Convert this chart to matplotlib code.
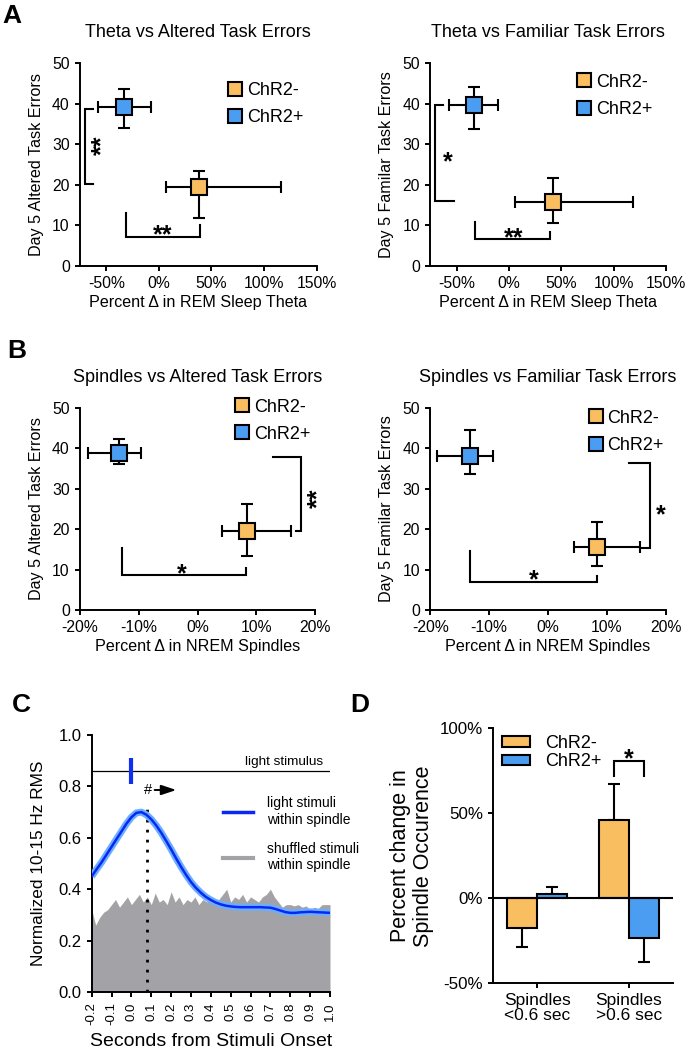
import matplotlib
matplotlib.use('Agg')
import matplotlib.pyplot as plt
from matplotlib.lines import Line2D
from matplotlib.patches import Patch
import numpy as np

plt.rcParams['font.family'] = ['Liberation Sans', 'DejaVu Sans']
plt.rcParams['axes.linewidth'] = 1.4
plt.rcParams['xtick.major.width'] = 1.4
plt.rcParams['ytick.major.width'] = 1.4
plt.rcParams['xtick.major.size'] = 3.8
plt.rcParams['ytick.major.size'] = 3.8

# ---------------- data ----------------
groups = ['ChR2-', 'ChR2+']
group_colors = ['#F9BE60', '#4B9DF2']

# Panel A: theta vs altered task errors
thA_alt_x = [37.8, -33.6]
thA_alt_xlo = [7.0, -57.5]
thA_alt_xhi = [115.6, -7.2]
thA_alt_y = [19.5, 39.2]
thA_alt_ylo = [11.7, 33.9]
thA_alt_yhi = [23.5, 43.5]

# Panel A: theta vs familiar task errors
thA_fam_x = [42.2, -33.3]
thA_fam_xlo = [5.7, -56.9]
thA_fam_xhi = [118.4, -10.9]
thA_fam_y = [15.7, 39.7]
thA_fam_ylo = [10.7, 33.7]
thA_fam_yhi = [21.6, 44.0]

# Panel B: spindles vs altered task errors
spB_alt_x = [8.5, -13.3]
spB_alt_xlo = [4.1, -18.6]
spB_alt_xhi = [15.9, -9.6]
spB_alt_y = [19.6, 38.8]
spB_alt_ylo = [13.4, 36.1]
spB_alt_yhi = [26.2, 42.3]

# Panel B: spindles vs familiar task errors
spB_fam_x = [8.3, -13.2]
spB_fam_xlo = [4.4, -18.8]
spB_fam_xhi = [15.6, -9.4]
spB_fam_y = [15.5, 38.0]
spB_fam_ylo = [10.9, 33.6]
spB_fam_yhi = [21.7, 44.6]

theta_xticks = [-50, 0, 50, 100, 150]
spindle_xticks = [-20, -10, 0, 10, 20]
err_yticks = [0, 10, 20, 30, 40, 50]

# significance brackets: vertical (x, y_top, x_top_end, y_bot, x_bot_end, label, lx, ly)
vbr_A_alt = (-69.8, 38.7, -62.8, 20.2, -62.8, '**', -61.2, 29.8)
vbr_A_fam = (-70.2, 39.6, -63.2, 15.9, -52.1, '*', -58.5, 27.3)
vbr_B_alt = (17.6, 37.8, 12.9, 19.6, 16.8, '**', 19.3, 27.7)
vbr_B_fam = (17.4, 36.4, 13.8, 15.3, 15.6, '*', 19.1, 25.2)
# horizontal (y, x_left, y_left_top, x_right, y_right_top, label, lx, ly)
hbr_A_alt = (7.1, -31.7, 13.1, 38.8, 10.1, '**', 3.5, 9.4)
hbr_A_fam = (6.6, -32.4, 10.9, 39.0, 8.4, '**', 4.0, 8.5)
hbr_B_alt = (8.7, -12.9, 15.3, 8.2, 10.3, '*', -2.6, 10.6)
hbr_B_fam = (7.0, -13.3, 14.5, 8.3, 8.3, '*', -2.4, 9.1)

# Panel C: normalized 10-15 Hz RMS
blue_t = [-0.200, -0.175, -0.150, -0.125, -0.100, -0.075, -0.050, -0.025,
          0.000, 0.025, 0.050, 0.075, 0.100, 0.125, 0.150, 0.175, 0.200,
          0.225, 0.250, 0.275, 0.300, 0.325, 0.350, 0.375, 0.400, 0.425,
          0.450, 0.475, 0.500, 0.525, 0.550, 0.575, 0.600, 0.625, 0.650,
          0.675, 0.700, 0.725, 0.750, 0.775, 0.800, 0.825, 0.850, 0.875,
          0.900, 0.925, 0.950, 0.975, 1.000]
blue_rms = [0.450, 0.478, 0.505, 0.535, 0.565, 0.595, 0.625, 0.655,
            0.680, 0.697, 0.700, 0.690, 0.672, 0.648, 0.620, 0.588, 0.555,
            0.520, 0.487, 0.456, 0.428, 0.405, 0.386, 0.370, 0.358, 0.348,
            0.341, 0.336, 0.333, 0.331, 0.330, 0.330, 0.330, 0.330, 0.330,
            0.329, 0.328, 0.323, 0.317, 0.311, 0.308, 0.308, 0.310, 0.311,
            0.312, 0.311, 0.310, 0.309, 0.308]
gray_t = [-0.20, -0.18, -0.16, -0.14, -0.12, -0.10, -0.08, -0.06, -0.04, -0.02,
          0.00, 0.02, 0.04, 0.06, 0.08, 0.10, 0.12, 0.14, 0.16, 0.18,
          0.20, 0.22, 0.24, 0.26, 0.28, 0.30, 0.32, 0.34, 0.36, 0.38,
          0.40, 0.42, 0.44, 0.46, 0.48, 0.50, 0.52, 0.54, 0.56, 0.58,
          0.60, 0.62, 0.64, 0.66, 0.68, 0.70, 0.72, 0.74, 0.76, 0.78,
          0.80, 0.82, 0.84, 0.86, 0.88, 0.90, 0.92, 0.94, 0.96, 0.98, 1.00]
gray_rms = [0.32, 0.26, 0.29, 0.31, 0.32, 0.34, 0.36, 0.33, 0.35, 0.37,
            0.34, 0.36, 0.38, 0.35, 0.37, 0.34, 0.385, 0.35, 0.36, 0.34,
            0.39, 0.35, 0.37, 0.34, 0.36, 0.35, 0.37, 0.34, 0.36, 0.35,
            0.37, 0.34, 0.36, 0.38, 0.40, 0.35, 0.37, 0.36, 0.38, 0.35,
            0.37, 0.36, 0.35, 0.37, 0.38, 0.40, 0.37, 0.35, 0.33, 0.34,
            0.34, 0.335, 0.34, 0.33, 0.335, 0.32, 0.33, 0.325, 0.34, 0.34, 0.34]
stim_onset = 0.0
stim_line_y = 0.86
sig_time = 0.08
c_xticks = [-0.2, -0.1, 0.0, 0.1, 0.2, 0.3, 0.4, 0.5, 0.6, 0.7, 0.8, 0.9, 1.0]
c_yticks = [0.0, 0.2, 0.4, 0.6, 0.8, 1.0]

# Panel D: percent change in spindle occurrence
d_categories = ['Spindles\n<0.6 sec', 'Spindles\n>0.6 sec']
d_mean = {'ChR2-': [-17.6, 46.1], 'ChR2+': [2.5, -23.2]}
d_sem = {'ChR2-': [10.9, 21.1], 'ChR2+': [4.0, 14.1]}
d_yticks = [-50, 0, 50, 100]
d_bracket = (72, 81)
d_star_y = 85.9

# ---------------- figure ----------------
W, H = 687, 1050
fig = plt.figure(figsize=(W / 100, H / 100), dpi=100)


def add_ax(x0, x1, ytop, ybot):
    return fig.add_axes([x0 / W, 1 - ybot / H, (x1 - x0) / W, (ybot - ytop) / H])


def style(ax):
    for s in ['top', 'right']:
        ax.spines[s].set_visible(False)


STAR_FS = 18


def star(ax, x, y, label, rotated=False):
    if rotated:
        ax.annotate(label, xy=(x, y), xytext=(0.57 * STAR_FS, 0), textcoords='offset points',
                    ha='center', va='baseline', rotation=90, rotation_mode='anchor',
                    fontsize=STAR_FS, fontweight='bold')
    else:
        ax.annotate(label, xy=(x, y), xytext=(0, -0.57 * STAR_FS), textcoords='offset points',
                    ha='center', va='baseline', fontsize=STAR_FS, fontweight='bold')


def scatter_panel(ax, x, xlo, xhi, y, ylo, yhi, xlim, xticks, title, xlabel, ylabel,
                  leg_anchor, vbr, hbr):
    style(ax)
    for i in range(len(groups)):
        ax.errorbar([x[i]], [y[i]],
                    xerr=[[x[i] - xlo[i]], [xhi[i] - x[i]]],
                    yerr=[[y[i] - ylo[i]], [yhi[i] - y[i]]],
                    fmt='s', ms=12, mfc=group_colors[i], mec='k', mew=1.5,
                    ecolor='k', elinewidth=1.5, capsize=4, capthick=1.5, zorder=3,
                    clip_on=False)
    ax.set_xlim(*xlim)
    ax.set_ylim(0, 50)
    ax.set_xticks(xticks)
    ax.set_xticklabels(['%d%%' % v for v in xticks], fontsize=11.3)
    ax.set_yticks(err_yticks)
    ax.set_yticklabels([str(v) for v in err_yticks], fontsize=11.3)
    ax.set_title(title, fontsize=13, pad=19)
    ax.set_xlabel(xlabel, fontsize=11.6, labelpad=2.5)
    ax.set_ylabel(ylabel, fontsize=11.6, labelpad=6)
    # vertical bracket
    vx, yt, xt, yb, xb, lab, lx, ly = vbr
    ax.plot([xt, vx, vx, xb], [yt, yt, yb, yb], color='k', lw=1.5, clip_on=False,
            solid_joinstyle='miter')
    star(ax, lx, ly, lab, rotated=(len(lab) > 1))
    # horizontal bracket
    hy, xl, ylt, xr, yrt, lab, lx, ly = hbr
    ax.plot([xl, xl, xr, xr], [ylt, hy, hy, yrt], color='k', lw=1.5, clip_on=False,
            solid_joinstyle='miter')
    star(ax, lx, ly, lab)
    handles = [Line2D([], [], ls='none', marker='s', ms=10, mfc=c, mec='k', mew=1.5)
               for c in group_colors]
    ax.legend(handles, groups, loc='upper left', bbox_to_anchor=leg_anchor,
              frameon=False, fontsize=13, handlelength=1.0, handletextpad=0.15,
              labelspacing=0.56, borderpad=0, borderaxespad=0)


axA1 = add_ax(80, 316.7, 63, 266)
axA2 = add_ax(430.3, 666.3, 63, 266)
axB1 = add_ax(80, 315, 408, 610)
axB2 = add_ax(430.3, 665.7, 408, 610)
axC = add_ax(91.7, 330, 735, 992)
axD = add_ax(493, 673, 728.3, 983.3)

scatter_panel(axA1, thA_alt_x, thA_alt_xlo, thA_alt_xhi, thA_alt_y, thA_alt_ylo, thA_alt_yhi,
              (-75, 150), theta_xticks, 'Theta vs Altered Task Errors',
              'Percent Δ in REM Sleep Theta', 'Day 5 Altered Task Errors',
              (0.618, 0.906), vbr_A_alt, hbr_A_alt)
scatter_panel(axA2, thA_fam_x, thA_fam_xlo, thA_fam_xhi, thA_fam_y, thA_fam_ylo, thA_fam_yhi,
              (-75, 150), theta_xticks, 'Theta vs Familiar Task Errors',
              'Percent Δ in REM Sleep Theta', 'Day 5 Familar Task Errors',
              (0.614, 0.947), vbr_A_fam, hbr_A_fam)
scatter_panel(axB1, spB_alt_x, spB_alt_xlo, spB_alt_xhi, spB_alt_y, spB_alt_ylo, spB_alt_yhi,
              (-20, 20), spindle_xticks, 'Spindles vs Altered Task Errors',
              'Percent Δ in NREM Spindles', 'Day 5 Altered Task Errors',
              (0.652, 1.047), vbr_B_alt, hbr_B_alt)
scatter_panel(axB2, spB_fam_x, spB_fam_xlo, spB_fam_xhi, spB_fam_y, spB_fam_ylo, spB_fam_yhi,
              (-20, 20), spindle_xticks, 'Spindles vs Familiar Task Errors',
              'Percent Δ in NREM Spindles', 'Day 5 Familar Task Errors',
              (0.665, 0.991), vbr_B_fam, hbr_B_fam)

# ---------------- Panel C ----------------
ax = axC
style(ax)
GRAY = '#A3A3A7'
ax.fill_between(gray_t, 0, gray_rms, color=GRAY, lw=0, zorder=1)
ax.vlines(sig_time, 0, 0.74, colors='k', linestyles=(0, (1, 2.6)), lw=2, zorder=2)
ax.plot(blue_t, blue_rms, color='#6AAEFF', lw=5, solid_capstyle='butt', zorder=3)
ax.plot(blue_t, blue_rms, color='#0A28F5', lw=1.8, zorder=4)
ax.axhline(stim_line_y, color='k', lw=0.9, zorder=2)
ax.vlines(stim_onset, 0.81, 0.91, colors='#1030F0', lw=3, zorder=5)
ax.text(0.963, stim_line_y + 0.012, 'light stimulus', ha='right', va='bottom', fontsize=9.7)
ax.text(sig_time + 0.005, 0.786, '#', ha='center', va='center', fontsize=10.5)
ax.annotate('', xy=(0.226, 0.786), xytext=(0.117, 0.786),
            arrowprops=dict(arrowstyle='-|>,head_length=0.9,head_width=0.3', color='k', lw=1.4,
                            shrinkA=0, shrinkB=0))
ax.set_xlim(-0.2, 1.0)
ax.set_ylim(0, 1.0)
ax.set_xticks(c_xticks)
ax.set_xticklabels(['%.1f' % v for v in c_xticks], rotation=90, fontsize=9.5)
ax.set_yticks(c_yticks)
ax.set_yticklabels(['%.1f' % v for v in c_yticks], fontsize=12)
ax.set_xlabel('Seconds from Stimuli Onset', fontsize=14, labelpad=6)
ax.set_ylabel('Normalized 10-15 Hz RMS', fontsize=12.4, labelpad=9)
c_handles = [Line2D([], [], color='#0A28F5', lw=2.5), Line2D([], [], color=GRAY, lw=3)]
ax.legend(c_handles, ['light stimuli\nwithin spindle', 'shuffled stimuli\nwithin spindle'],
          loc='upper left', bbox_to_anchor=(0.551, 0.761), frameon=False, fontsize=10,
          handlelength=2.16, handletextpad=0.99, labelspacing=1.1, borderpad=0,
          borderaxespad=0)

# ---------------- Panel D ----------------
ax = axD
style(ax)
xpos = np.arange(len(d_categories))
bw = 0.33
for i, g in enumerate(groups):
    pos = xpos + (i - 0.5) * bw
    vals = np.array(d_mean[g])
    sem = np.array(d_sem[g])
    lower = np.where(vals < 0, sem, 0)
    upper = np.where(vals >= 0, sem, 0)
    ax.errorbar(pos, vals, yerr=[lower, upper], fmt='none', ecolor='k', elinewidth=1.5,
                capsize=4, capthick=1.5, zorder=1)
    ax.bar(pos, vals, bw, color=group_colors[i], edgecolor='k', lw=1.5, zorder=2)
ax.axhline(0, color='k', lw=1.5, zorder=3)
bl, bt = d_bracket
xl, xr = xpos[1] - 0.5 * bw, xpos[1] + 0.5 * bw
ax.plot([xl, xl, xr, xr], [bl, bt, bt, bl], color='k', lw=1.5, solid_joinstyle='miter')
star(ax, xpos[1], d_star_y, '*')
ax.set_xlim(-0.48, 1.48)
ax.set_ylim(-50, 100)
ax.set_yticks(d_yticks)
ax.set_yticklabels(['%d%%' % v for v in d_yticks], fontsize=12.2)
ax.set_xticks(xpos)
ax.set_xticklabels(d_categories, fontsize=12.5, linespacing=1.0)
ax.set_ylabel('Percent change in\nSpindle Occurence', fontsize=15.5, labelpad=4,
              linespacing=1.1)
d_handles = [Patch(facecolor=c, edgecolor='k', lw=1.5) for c in group_colors]
ax.legend(d_handles, groups, loc='upper left', bbox_to_anchor=(0.048, 0.975),
          frameon=False, fontsize=13, handlelength=1.57, handleheight=0.54,
          handletextpad=0.83, labelspacing=0.1, borderpad=0, borderaxespad=0)

# ---------------- panel letters ----------------
for letter, px, py in [('A', 2, 23), ('B', 7, 358), ('C', 12, 712), ('D', 350, 712)]:
    fig.text(px / W, 1 - py / H, letter, fontsize=19, fontweight='bold', ha='left',
             va='baseline')

fig.savefig('out.png', dpi=100)
